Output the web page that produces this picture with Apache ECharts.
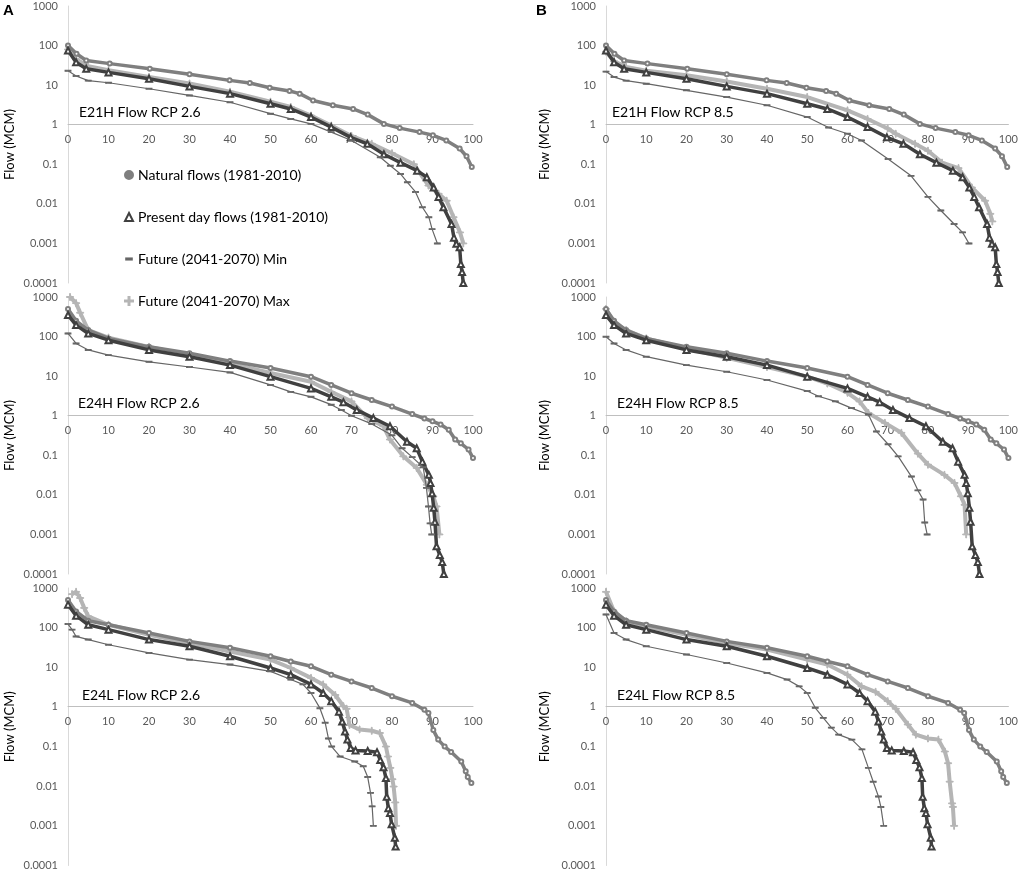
<!DOCTYPE html>
<html>
<head>
<meta charset="utf-8">
<script src="https://cdn.jsdelivr.net/npm/echarts@6/dist/echarts.min.js"></script>
<style>
html,body{margin:0;padding:0;background:#fff;}
#chart{width:1021px;height:871px;}
</style>
</head>
<body>
<div id="chart"></div>
<script>
// ---- Tick labels & names ----
const yTickLabels = ['0.0001','0.001','0.01','0.1','1','10','100','1000'];
const seriesNames = ['Natural flows (1981-2010)','Present day flows (1981-2010)','Future (2041-2070) Min','Future (2041-2070) Max'];
const panelTitles = ['E21H Flow RCP 2.6','E24H Flow RCP 2.6','E24L Flow RCP 2.6','E21H Flow RCP 8.5','E24H Flow RCP 8.5','E24L Flow RCP 8.5'];
const panelLetters = ['A','B'];

// ---- E21H ----
const natE21H = [[0,100],[2.1,62],[4.5,42],[10.3,35],[20.2,26],[30,18.8],[39.9,13.2],[44.9,11.3],[49.8,8.6],[54.7,7.1],[57.2,6.1],[60.5,4.1],[65.4,3.1],[70.4,2.5],[74,1.8],[78,1.05],[81.9,0.82],[86.8,0.65],[90.1,0.54],[93.4,0.4],[96.7,0.25],[98.4,0.16],[99.7,0.085]];
const presE21H = [[0,75],[2,38],[4.5,26],[10,21],[20,14.5],[30,9.3],[40,6.1],[50,3.4],[55,2.5],[60,1.56],[65,0.87],[69.8,0.48],[73.9,0.33],[78,0.18],[82.1,0.11],[86.2,0.069],[88.6,0.047],[90.3,0.026],[91.5,0.015],[92.7,0.0082],[94.7,0.0031],[95.3,0.0014],[95.9,0.00098],[96.7,0.0008],[97,0.0003],[97.3,0.00019],[97.6,0.0001]];
const maxE21H26 = [[0,80],[2,45],[5,30],[10,24],[20,16],[30,11],[40,6.8],[50,3.8],[55,2.8],[60,1.7],[65,0.95],[70,0.52],[75,0.33],[80,0.19],[85.4,0.1],[89,0.029],[91.5,0.018],[93.5,0.012],[95.2,0.0046],[96.8,0.0019],[97.6,0.001]];
const minE21H26 = [[0,23],[2,17],[5,13],[10,11.5],[20,8.1],[30,5.5],[40,3.7],[50,1.9],[55,1.4],[60,1.05],[65,0.65],[70,0.4],[77.1,0.15],[79.6,0.092],[82.1,0.057],[83.8,0.035],[85.8,0.02],[87.5,0.0082],[89.1,0.0046],[89.9,0.0023],[91.2,0.001]];
const maxE21H85 = [[0,70],[2,40],[5,29],[10,23],[20,17.7],[30,12.4],[40,8.1],[50,5],[60,2.3],[65,1.4],[70,0.8],[72,0.59],[76.8,0.33],[80,0.22],[83.5,0.11],[87.6,0.08],[90.9,0.026],[94.2,0.012],[95.5,0.0056],[96,0.0036]];
const minE21H85 = [[0,22],[2,16],[5,13],[10,10.9],[20,7.4],[30,5],[40,3.1],[50,1.56],[55.3,0.85],[60,0.59],[63.5,0.4],[70.1,0.136],[75.8,0.051],[80,0.015],[83.2,0.0068],[86.5,0.0031],[88.6,0.0019],[90.2,0.001]];

// ---- E24H ----
const natE24H = [[0,500],[2,250],[5,146],[10,90],[20,55],[30,38],[40,24],[50,16],[60,9.7],[65,6],[70,3.7],[75,2.5],[80,1.7],[85,1.1],[88,0.85],[90,0.72],[92,0.6],[94,0.44],[95.6,0.25],[97,0.2],[98.9,0.14],[100,0.085]];
const presE24H = [[0,350],[2,195],[5,120],[10,81],[20,46],[30,31],[40,19],[50,9.7],[60,4.9],[65,3.0],[68,2.2],[71.3,1.4],[75.4,0.87],[79.5,0.54],[83.7,0.22],[86.1,0.15],[87.5,0.069],[89.1,0.032],[89.5,0.02],[89.9,0.011],[90.3,0.0047],[90.6,0.0021],[91,0.0005],[91.8,0.0003],[92.4,0.0002],[92.8,0.0001]];
const maxE24H26 = [[0.5,1000],[2,700],[3,400],[5,146],[10,94],[20,55],[30,34],[40,21],[50,12],[60,7.2],[65,4.0],[70,2.3],[74,0.86],[77.9,0.54],[79.5,0.25],[82.8,0.094],[86.1,0.048],[88.6,0.018],[90.2,0.0092],[91,0.0051],[91.7,0.001]];
const minE24H26 = [[0,120],[2,67],[5,46],[10,34],[20,23],[30,17],[40,12.4],[50,6],[55,4],[60,3.0],[65,1.9],[67.5,1.4],[70,1.0],[75,0.62],[80,0.32],[82.5,0.15],[85,0.09],[87.7,0.05],[88.5,0.015],[89,0.0051],[89.4,0.0019],[89.8,0.001]];
const maxE24H85 = [[0,500],[2,215],[5,146],[10,90],[20,50],[30,29],[40,17],[50,9.7],[55,6.5],[60,3.8],[63,2.3],[65.2,1.17],[69.3,0.66],[73.4,0.37],[77.5,0.11],[80,0.058],[84.1,0.032],[86.6,0.02],[88.2,0.0092],[89.1,0.0056],[89.5,0.001]];
const minE24H85 = [[0,99],[2,67],[5,46],[10,31],[20,19],[30,12.9],[40,8],[50,4.2],[52.8,3.1],[57,2.3],[61,1.56],[65.2,1.07],[67.2,0.4],[70.1,0.19],[72.6,0.094],[75.9,0.029],[77.5,0.013],[78.8,0.0076],[79.2,0.002],[79.8,0.001]];

// ---- E24L ----
const natE24L = [[0,500],[2,257],[5,150],[10,118],[20,73],[30,45],[40,31],[50,19],[55,14],[60,10.6],[65,6.5],[70,4.4],[75,3.0],[80,1.86],[85,1.26],[88,0.85],[89,0.7],[90.2,0.26],[91.4,0.15],[93,0.1],[94.6,0.073],[97.1,0.042],[98.2,0.024],[98.7,0.017],[99.6,0.012]];
const presE24L = [[0,380],[2,200],[5,118],[10,89],[20,50],[30,34],[40,19],[50,9.6],[55,6.5],[60,3.7],[63,2.25],[65,1.4],[66.9,0.76],[67.7,0.43],[68.4,0.24],[69,0.15],[69.8,0.092],[71,0.08],[74,0.077],[76.3,0.072],[77.1,0.046],[77.9,0.03],[78.5,0.016],[78.7,0.0054],[79.1,0.0028],[79.5,0.0021],[79.9,0.0011],[80.7,0.0005],[80.9,0.0003]];
const maxE24L26 = [[1,700],[2,800],[3,560],[4,315],[5,193],[10,118],[20,66],[30,41],[40,25],[50,15.6],[55,9.6],[60,5.4],[63,3.7],[66,2.0],[68,1.04],[68.8,0.9],[69.5,0.35],[72,0.27],[75,0.25],[77,0.22],[78.5,0.1],[79,0.056],[79.6,0.029],[80.1,0.015],[80.4,0.0098],[80.8,0.0039],[81,0.001]];
const minE24L26 = [[0,123],[1,89],[2,60],[5,50],[10,37],[20,23],[30,15.6],[40,11.7],[50,7.9],[55,4.9],[58,3.7],[60,2.25],[62.2,0.93],[63.5,0.4],[64.3,0.16],[65.1,0.1],[67.2,0.056],[70.8,0.042],[72.9,0.032],[74,0.017],[74.7,0.0068],[75.1,0.0031],[75.4,0.001]];
const maxE24L85 = [[0,800],[2,257],[5,145],[10,108],[20,66],[30,41],[40,28],[50,15.6],[55,11.7],[60,6.5],[63.5,3.3],[67,2.4],[70,1.4],[72,0.9],[75,0.36],[77,0.2],[80,0.16],[82.6,0.15],[84.2,0.075],[85,0.038],[85.4,0.013],[86,0.0037],[86.2,0.003],[86.5,0.001]];
const minE24L85 = [[0,215],[2,73],[5,50],[10,34],[20,21],[30,12.8],[40,7.2],[45,4.9],[48,3.3],[50,2.25],[52,0.95],[54,0.53],[56,0.3],[57.8,0.2],[61.1,0.15],[63.6,0.085],[65.2,0.029],[66.4,0.013],[67.7,0.0055],[68.3,0.003],[69,0.001]];

// panel order: A1,A2,A3,B1,B2,B3
const panelData = [
  [natE21H, presE21H, minE21H26, maxE21H26],
  [natE24H, presE24H, minE24H26, maxE24H26],
  [natE24L, presE24L, minE24L26, maxE24L26],
  [natE21H, presE21H, minE21H85, maxE21H85],
  [natE24H, presE24H, minE24H85, maxE24H85],
  [natE24L, presE24L, minE24L85, maxE24L85]
];

const FONT = 'Lato, "Open Sans", sans-serif';
const plusPath = 'path://M4.4,0H5.6V4.4H10V5.6H5.6V10H4.4V5.6H0V4.4H4.4Z';
const dashPath = 'path://M0,0L0,0M10,10L10,10M1.5,4.3H8.5V5.7H1.5Z';

const styles = [
  {color:'#7f7f7f', width:3.5, symbol:'emptyCircle', size:4, z:3},
  {color:'#404040', width:3.5, symbol:'emptyTriangle', size:6, z:4},
  {color:'#666666', width:1.2, symbol:'rect', size:[5,1.4], z:5},
  {color:'#b5b5b5', width:4, symbol:plusPath, size:7, z:2}
];

const colLeft = [68, 606];
const colWidth = 405;
const rowTop = [6, 297, 588];
const rowHeight = [277, 277, 278];
const titleLeft = [74, 73, 77, 607, 612, 612];

const grids = [], xAxes = [], yAxes = [], series = [], titles = [];
for (let p = 0; p < 6; p++) {
  const col = Math.floor(p / 3), row = p % 3;
  const h = rowHeight[row];
  grids.push({left: colLeft[col], top: rowTop[row], width: colWidth, height: h});
  xAxes.push({
    type:'value', gridIndex:p, min:0, max:100, interval:10,
    position:'bottom', offset: -h * 4 / 7,
    axisLine:{show:true, lineStyle:{color:'#bfbfbf', width:1}},
    axisTick:{show:false}, splitLine:{show:false},
    axisLabel:{color:'#595959', fontSize:11, fontFamily:FONT, margin:9}
  });
  yAxes.push({
    type:'log', logBase:10, gridIndex:p, min:0.0001, max:1000, splitNumber:7,
    name:'Flow (MCM)', nameLocation:'middle', nameGap: col === 0 ? 52 : 55,
    nameTextStyle:{color:'#000', fontSize:13, fontFamily:FONT},
    axisLine:{show:true, lineStyle:{color:'#d9d9d9', width:1}},
    axisTick:{show:false}, splitLine:{show:false},
    axisLabel:{color:'#595959', fontSize:11, fontFamily:FONT, margin:10,
      formatter: v => yTickLabels[Math.round(Math.log10(v)) + 4]}
  });
  titles.push({
    text: panelTitles[p], left: titleLeft[p], top: rowTop[row] + h * 3 / 7 - 24,
    textStyle:{color:'#000', fontSize:14, fontWeight:'normal', fontFamily:FONT}
  });
  panelData[p].forEach((d, k) => {
    const st = styles[k];
    series.push({
      name: seriesNames[k], type:'line', xAxisIndex:p, yAxisIndex:p,
      data: d, z: st.z, animation:false,
      symbol: st.symbol, symbolSize: st.size, showAllSymbol:true,
      itemStyle:{color: st.color, borderColor: st.color, borderWidth: 1},
      lineStyle:{color: st.color, width: st.width}
    });
  });
}

const chart = echarts.init(document.getElementById('chart'), null, {renderer:'canvas'});
chart.setOption({
  backgroundColor:'#fff',
  animation:false,
  title: titles,
  grid: grids,
  xAxis: xAxes,
  yAxis: yAxes,
  legend: {
    orient:'vertical', left:119, top:162, itemGap:26, itemWidth:8, itemHeight:8,
    textStyle:{color:'#000', fontSize:14, fontFamily:FONT, lineHeight:16},
    data:[
      {name:seriesNames[0], icon:'circle'},
      {name:seriesNames[1], icon:'emptyTriangle'},
      {name:seriesNames[2], icon:dashPath},
      {name:seriesNames[3], icon:plusPath}
    ],
    z: 10
  },
  graphic: panelLetters.map((t, i) => ({
    type:'text', left: i === 0 ? 3 : 536, top: 3,
    style:{text:t, fill:'#000', font:'bold 15px "Liberation Sans", Arial, sans-serif'}
  })),
  series: series
});
</script>
</body>
</html>
